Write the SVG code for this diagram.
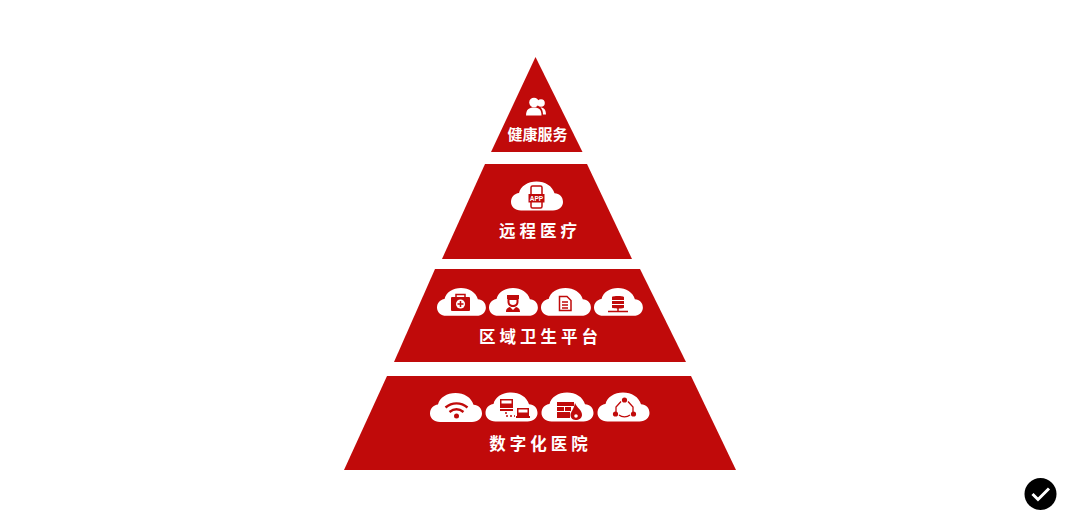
<svg xmlns="http://www.w3.org/2000/svg" width="1080" height="528" viewBox="0 0 1080 528">
<style>
.tier{fill:#c00a0a}
.cloud{fill:#fff}
.lab{font-family:"Noto Sans CJK SC","Liberation Sans",sans-serif;font-weight:700;fill:#fff;font-size:16.5px}
.r{fill:#c00a0a}
.rs{fill:none;stroke:#c00a0a;stroke-width:1.5}
.w{fill:#fff}
</style>
<defs>
<path id="cl" d="M10,29C4,29 0,25 0,20.500C0,15.500 3.500,12 8,11.500C9.500,4.500 17,0 25.500,0C34,0 41.500,4.500 43.500,11.800C48.500,12 52,15.500 52,20.500C52,25 48,29 42,29Z"/>
</defs>
<rect width="1080" height="528" fill="#fff"/>
<g id="tier-health">
<polygon class="tier" points="535.500,57 582.500,152 491,152"/>
<g class="w"><circle cx="534" cy="102.500" r="4.800"/><path d="M526,115.500C526,109.500 529,107.500 534,107.500C539,107.500 541.500,109.500 541.500,115.500Z"/><circle cx="541" cy="103" r="3.800"/><path d="M540.500,107.500C544,107.500 546,110 546,114.500H543C543,111 542,109 540.500,107.500Z"/></g>
<text class="lab" x="537.500" y="139.500" text-anchor="middle" style="font-size:15px">健康服务</text>
</g>
<g id="tier-telemedicine">
<polygon class="tier" points="485,164 587,164 632,259 442,259"/>
<use href="#cl" class="cloud" transform="translate(511,181.500)"/>
<rect x="531" y="186" width="11" height="22" rx="1.500" fill="#fff" stroke="#c00a0a" stroke-width="1.500"/>
<rect class="r" x="528.500" y="194" width="16" height="8.500"/>
<text x="536.500" y="200.500" font-family="Liberation Sans,sans-serif" font-size="6.500" font-weight="700" fill="#fff" text-anchor="middle">APP</text>
<text class="lab" x="540" y="237" text-anchor="middle" letter-spacing="4">远程医疗</text>
</g>
<g id="tier-regional">
<polygon class="tier" points="435,269 640,269 686,362 394,362"/>
<g id="icon-medkit"><use href="#cl" class="cloud" transform="translate(437,288) scale(.94,.96)"/>
<rect class="r" x="451" y="297" width="19" height="14" rx="1"/><path class="rs" d="M456,297V294.500H465V297"/><circle class="w" cx="460.500" cy="304" r="4.500"/><path class="rs" d="M460.500,301V307M457.500,304H463.500"/></g>
<g id="icon-nurse"><use href="#cl" class="cloud" transform="translate(489,288) scale(.94,.96)"/>
<path class="r" d="M507,295H519V299H507Z"/><path class="r" d="M507.500,299H518.500V302C518.500,305 516,307 513,307C510,307 507.500,305 507.500,302Z"/><path class="w" d="M509.500,300H516.500V302C516.500,304 515,305 513,305C511,305 509.500,304 509.500,302Z"/><path class="r" d="M506,312C506,308.500 508,307.500 510,307L513,310L516,307C518,307.500 520,308.500 520,312Z"/></g>
<g id="icon-doc"><use href="#cl" class="cloud" transform="translate(541,288) scale(.96,.96)"/>
<path class="rs" d="M559.500,296.500H567L571,300.500V310.500H559.500ZM562,302H568M562,305H568M562,308H568"/></g>
<g id="icon-db"><use href="#cl" class="cloud" transform="translate(594,288) scale(.94,.96)"/>
<path class="r" d="M612,297C612,295.500 624,295.500 624,297V300H612ZM612,301H624V304H612ZM612,305H624V307.500C624,309 612,309 612,307.500Z"/><path class="rs" d="M618,308V311M608,311.500H628"/></g>
<text class="lab" x="540.500" y="343" text-anchor="middle" letter-spacing="4">区域卫生平台</text>
</g>
<g id="tier-hospital">
<polygon class="tier" points="387,376 691,376 736,470 344,470"/>
<g id="icon-wifi"><use href="#cl" class="cloud" transform="translate(430,393)"/>
<path fill="none" stroke="#c00a0a" stroke-width="2.400" d="M445.500,407.500C452,402 461,402 467.500,407.500M449.500,412C454,408.500 459,408.500 463.500,412"/><circle class="r" cx="456.500" cy="416" r="2.500"/></g>
<g id="icon-network"><use href="#cl" class="cloud" transform="translate(485.500,392.500)"/>
<rect class="r" x="500" y="399" width="13" height="9"/><rect class="w" x="501.500" y="400.500" width="10" height="3"/><rect class="r" x="500" y="409" width="13" height="2"/>
<rect class="r" x="517" y="408" width="12" height="8"/><rect class="w" x="518.500" y="409.500" width="9" height="3"/><rect class="r" x="516" y="416" width="14" height="2"/>
<path fill="none" stroke="#c00a0a" stroke-width="1.500" stroke-dasharray="2 2" d="M506,412V416H515"/></g>
<g id="icon-firewall"><use href="#cl" class="cloud" transform="translate(541.500,392.500)"/>
<path class="r" d="M557,402H574V406H557ZM557,407H564V411H557ZM565,407H571V411H565ZM557,412H570V418H557Z"/><path class="r" d="M575,403C577,408 582,410 582,415C582,418 579,420 575.500,420C572,420 570.500,417 570.500,415C570.500,412 574,409 575,403Z"/><circle class="w" cx="576" cy="416" r="1.800"/></g>
<g id="icon-cycle"><use href="#cl" class="cloud" transform="translate(597.500,392.500)"/>
<path fill="none" stroke="#c00a0a" stroke-width="1.300" d="M621,401.500L616,407V412M628,401.500L633,407V412M619,415C622,417.500 627,417.500 630,415"/><circle class="r" cx="624.500" cy="400" r="2.600"/><circle class="r" cx="615.500" cy="414" r="2.600"/><circle class="r" cx="633.500" cy="414" r="2.600"/></g>
<text class="lab" x="540.500" y="450" text-anchor="middle" letter-spacing="4">数字化医院</text>
</g>
<g id="badge">
<circle cx="1040.500" cy="494" r="16" fill="#000"/>
<path d="M1032.500,494L1038,499.500L1049,488.500" fill="none" stroke="#fff" stroke-width="3"/>
</g>
</svg>
